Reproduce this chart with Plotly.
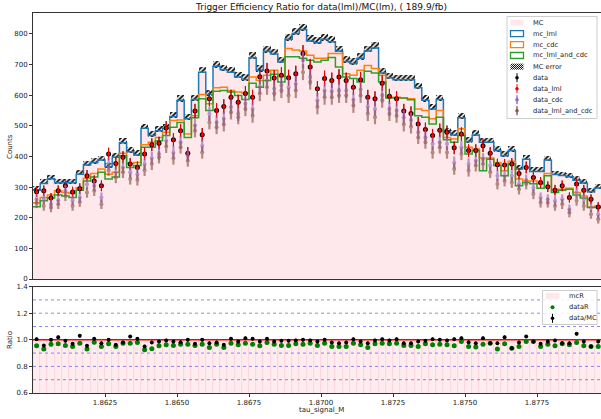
import numpy as np
import plotly.graph_objects as go

# ---------------- data ----------------
bin_lo = 1.86
bin_w = 0.00025
n_bins = 80

mc = [290,312,327,314,314,314,342,372,380,388,
      366,397,445,415,405,492,468,484,492,530,
      583,523,586,675,602,694,683,675,659,651,
      722,681,743,734,708,782,801,814,777,771,
      782,774,744,710,703,720,744,754,672,657,
      650,650,650,624,583,555,586,479,470,526,
      449,470,446,446,419,402,419,359,391,351,
      351,388,341,338,334,322,313,285,297,280]

mc_err = [16,16,16,16,16,16,17,17,17,17,
          17,17,18,18,18,19,18,19,19,19,
          20,19,20,21,20,21,21,21,21,21,
          22,21,22,22,22,23,23,23,23,23,
          23,23,22,22,22,22,22,23,21,21,
          21,21,21,21,20,20,20,19,19,19,
          18,19,18,18,18,18,18,17,17,17,
          17,17,16,16,16,16,16,15,16,15]

mc_cdc = [249,266,274,288,282,279,298,329,344,359,
          342,348,410,377,380,438,446,462,479,517,
          519,473,533,602,572,624,626,615,610,607,
          659,648,665,681,661,752,747,744,730,720,
          720,736,736,670,665,681,697,687,665,593,
          593,591,588,555,550,523,550,462,457,490,
          430,424,395,395,380,353,384,326,320,320,
          311,344,293,293,296,282,271,235,238,230]

mc_lml_and_cdc = [236,255,264,274,271,266,290,320,333,348,
                  326,333,402,364,370,430,430,451,468,495,
                  511,462,526,588,550,613,615,610,599,586,
                  639,626,648,668,643,725,725,720,714,708,
                  714,723,692,659,654,643,678,672,643,591,
                  591,591,585,533,528,506,528,454,446,468,
                  408,419,353,391,370,337,375,304,315,311,
                  296,337,282,290,293,274,264,233,233,225]

data = [285,288,264,288,304,284,295,337,320,304,
        408,377,397,375,364,408,438,443,493,454,
        484,410,548,471,588,550,563,593,577,605,
        593,660,679,656,665,657,670,736,692,621,
        654,648,659,648,626,650,593,588,639,596,
        588,548,540,506,488,468,485,479,428,473,
        419,419,435,410,373,372,375,344,364,331,
        315,301,290,304,266,310,290,260,235,250]

data_cdc = [260,260,244,257,288,257,266,309,304,266,
            377,348,364,348,342,375,395,408,451,413,
            446,402,501,435,539,511,523,561,539,572,
            555,628,648,621,632,626,637,714,659,583,
            615,613,615,615,585,618,563,555,599,555,
            550,528,519,479,462,441,446,441,380,430,
            375,386,391,370,337,337,337,310,323,298,
            266,260,255,260,228,282,260,233,211,225]

data_lml_and_cdc = [247,238,233,244,271,238,251,282,288,244,
                    355,331,348,326,323,355,375,397,432,393,
                    430,386,484,413,511,495,504,544,528,555,
                    533,605,626,605,615,599,615,675,643,561,
                    593,593,599,599,566,599,539,528,583,539,
                    533,504,497,462,446,413,430,413,359,408,
                    353,370,375,348,310,320,315,293,310,277,
                    249,249,238,244,216,255,238,211,195,210]

ratio_data_mc = [1.005,0.957,1.0,1.02,0.992,0.97,1.03,0.955,1.007,0.975,
                 1.0,0.962,0.98,1.025,1.007,0.95,0.98,0.987,0.995,0.987,
                 0.982,1.0,0.97,1.0,0.975,0.98,0.962,1.007,0.987,1.012,
                 1.007,0.987,1.007,0.987,0.992,0.992,0.995,1.0,0.995,0.987,
                 1.0,0.98,0.975,0.98,1.005,0.987,0.975,0.995,1.005,0.995,
                 1.005,0.975,0.975,0.987,0.992,1.005,1.0,0.995,1.005,1.012,
                 0.982,0.975,1.012,0.975,0.975,1.02,0.937,0.98,1.025,0.987,
                 0.97,0.987,0.995,0.975,0.975,1.045,0.987,0.95,0.987,0.98]

ratio_data = [0.955,0.93,0.967,0.97,0.957,0.95,0.975,0.93,0.982,0.95,
              0.97,0.95,0.975,0.975,0.98,0.925,0.932,0.955,0.962,0.957,
              0.967,0.967,0.957,0.967,0.942,0.967,0.942,0.975,0.962,0.975,
              0.967,0.955,0.98,0.967,0.957,0.957,0.97,0.967,0.975,0.957,
              0.975,0.95,0.95,0.95,0.975,0.962,0.942,0.97,0.975,0.97,
              0.975,0.957,0.957,0.95,0.97,0.962,0.967,0.962,0.955,0.987,
              0.95,0.945,0.967,0.975,0.93,0.97,0.937,0.95,0.987,0.987,
              0.95,0.967,0.955,0.97,0.962,0.98,0.955,0.95,0.95,0.96]

ratio_err = [0.012] * n_bins
mc_ratio = [1.0] * n_bins

y_ticks = [0, 100, 200, 300, 400, 500, 600, 700, 800]
x_ticks = [1.8625, 1.8650, 1.8675, 1.8700, 1.8725, 1.8750, 1.8775]
r_ticks = [0.6, 0.8, 1.0, 1.2, 1.4]
r_guides = [0.7, 0.8, 0.9, 1.1, 1.2, 1.3]

title = "Trigger Efficiency Ratio for data(lml)/MC(lm), ( 189.9/fb)"

# ---------------- geometry ----------------
W, H = 601, 419
ML, MR, MT, MB = 33, 0, 13, 26
PW, PH = W - ML - MR, H - MT - MB
px_per_unit = 7.2 / bin_w
x_range = [bin_lo, bin_lo + PW / px_per_unit]

def xp(px):
    return (px - ML) / PW

def yp(py):
    return (H - MB - py) / PH

edges = bin_lo + bin_w * np.arange(n_bins + 1)
centers = edges[:-1] + bin_w / 2

def step(vals):
    return list(edges), list(vals) + [vals[-1]]

FONT = "DejaVu Sans"
PINK = "rgb(255,232,235)"
BLUE, ORANGE, GREEN = "#1f77b4", "#ff7f0e", "#2ca02c"
PURPLE, BROWN = "#9467bd", "#8c564b"

fig = go.Figure()

# MC filled histogram
fig.add_trace(go.Bar(x=centers, y=mc, width=bin_w, marker=dict(color=PINK, line=dict(width=0)),
                     xaxis="x", yaxis="y", showlegend=False, hoverinfo="skip"))
# step lines
for vals, col in [(mc, BLUE), (mc_cdc, ORANGE), (mc_lml_and_cdc, GREEN)]:
    sx, sy = step(vals)
    fig.add_trace(go.Scatter(x=sx, y=sy, mode="lines", line=dict(color=col, width=1.5, shape="hv"),
                             xaxis="x", yaxis="y", showlegend=False, hoverinfo="skip"))
# MC error hatch (sits mostly above the mc_lml line)
mc_arr = np.array(mc, float)
err_arr = np.array(mc_err, float)
fig.add_trace(go.Bar(x=centers, y=err_arr, base=mc_arr - 0.2 * err_arr, width=bin_w,
                     marker=dict(color="white", line=dict(width=0),
                                 pattern=dict(shape="/", fgcolor="black", bgcolor="white",
                                              size=3.5, solidity=0.5, fillmode="replace")),
                     xaxis="x", yaxis="y", showlegend=False, hoverinfo="skip"))

# data points
d_arr = np.array(data, float)
fig.add_trace(go.Scatter(x=centers, y=data, mode="markers",
                         marker=dict(color="black", size=5),
                         error_y=dict(type="data", array=np.sqrt(d_arr), color="black", thickness=1, width=0),
                         xaxis="x", yaxis="y", showlegend=False, hoverinfo="skip"))
fig.add_trace(go.Scatter(x=centers, y=data, mode="markers",
                         marker=dict(color="red", size=3),
                         error_y=dict(type="data", array=np.sqrt(d_arr), color="red", thickness=1, width=0),
                         xaxis="x", yaxis="y", showlegend=False, hoverinfo="skip"))
for vals, col in [(data_cdc, PURPLE), (data_lml_and_cdc, BROWN)]:
    v = np.array(vals, float)
    fig.add_trace(go.Scatter(x=centers, y=vals, mode="markers", opacity=0.65,
                             marker=dict(color=col, size=4),
                             error_y=dict(type="data", array=np.sqrt(v), color=col, thickness=2.2, width=0),
                             xaxis="x", yaxis="y", showlegend=False, hoverinfo="skip"))

# ratio panel
fig.add_trace(go.Bar(x=centers, y=mc_ratio, width=bin_w,
                     marker=dict(color="rgb(255,236,239)", line=dict(color="rgb(250,205,214)", width=0.6)),
                     xaxis="x2", yaxis="y2", showlegend=False, hoverinfo="skip"))
for g in r_guides:
    fig.add_trace(go.Scatter(x=[edges[0], edges[-1]], y=[g, g], mode="lines",
                             line=dict(color="rgba(60,60,255,0.6)", width=1, dash="dot"),
                             xaxis="x2", yaxis="y2", showlegend=False, hoverinfo="skip"))
fig.add_trace(go.Scatter(x=[edges[0], edges[-1]], y=[1.0, 1.0], mode="lines",
                         line=dict(color="red", width=1.5),
                         xaxis="x2", yaxis="y2", showlegend=False, hoverinfo="skip"))
fig.add_trace(go.Scatter(x=centers, y=ratio_data, mode="markers",
                         marker=dict(color="green", size=5),
                         xaxis="x2", yaxis="y2", showlegend=False, hoverinfo="skip"))
fig.add_trace(go.Scatter(x=centers, y=ratio_data_mc, mode="markers",
                         marker=dict(color="black", size=4),
                         error_y=dict(type="data", array=ratio_err, color="black", thickness=1.2, width=0),
                         xaxis="x2", yaxis="y2", showlegend=False, hoverinfo="skip"))

AX = dict(showgrid=False, zeroline=False, showline=True, linecolor="#333", linewidth=1,
          mirror=True, tickfont=dict(family=FONT, size=7, color="#222"),
          ticks="outside", ticklen=3, tickcolor="#333", automargin=False)

fig.update_layout(
    width=W, height=H, margin=dict(l=ML, r=MR, t=MT, b=MB, pad=0, autoexpand=False),
    paper_bgcolor="white", plot_bgcolor="white",
    barmode="overlay", bargap=0,
    font=dict(family=FONT, size=7, color="#222"),
    xaxis=dict(AX, domain=[0, 1], anchor="y", range=x_range, showticklabels=False, ticks=""),
    yaxis=dict(AX, domain=[0.3, 1], anchor="x", range=[0, 868], tickvals=y_ticks),
    xaxis2=dict(AX, domain=[0, 1], anchor="y2", range=x_range, tickvals=x_ticks,
                ticktext=[f"{t:.4f}" for t in x_ticks]),
    yaxis2=dict(AX, domain=[0, 0.28], anchor="x2", range=[0.6, 1.4], tickvals=r_ticks,
                ticktext=[f"{t:.1f}" for t in r_ticks]),
)

annotations = []
shapes = []
annotations.append(dict(text=title, x=xp(321), y=yp(7), xref="paper", yref="paper",
                        showarrow=False, xanchor="center", yanchor="middle",
                        font=dict(family=FONT, size=9, color="#111")))
annotations.append(dict(text="tau_signal_M", x=xp(321), y=yp(410), xref="paper", yref="paper",
                        showarrow=False, xanchor="center", yanchor="middle",
                        font=dict(family=FONT, size=7, color="#222")))
annotations.append(dict(text="Counts", x=xp(10), y=yp(147), xref="paper", yref="paper", textangle=-90,
                        showarrow=False, xanchor="center", yanchor="middle",
                        font=dict(family=FONT, size=7, color="#222")))
annotations.append(dict(text="Ratio", x=xp(10), y=yp(340), xref="paper", yref="paper", textangle=-90,
                        showarrow=False, xanchor="center", yanchor="middle",
                        font=dict(family=FONT, size=7, color="#222")))

# ---- top legend (drawn manually to match matplotlib layout) ----
LFS = 6.7
lx0, lx1, ly0, ly1 = 507, 597, 16.5, 118.5
shapes.append(dict(type="rect", xref="paper", yref="paper", x0=xp(lx0), x1=xp(lx1), y0=yp(ly1), y1=yp(ly0),
                   line=dict(color="#cccccc", width=1), fillcolor="rgba(255,255,255,0.85)", layer="above"))
labels = ["MC", "mc_lml", "mc_cdc", "mc_lml_and_cdc", "MC error", "data", "data_lml", "data_cdc", "data_lml_and_cdc"]
ys = [22.7, 33.7, 44.6, 55.5, 66.6, 77.7, 88.7, 99.7, 110.7]
px0, px1 = 510.5, 523.5
for lab, yc in zip(labels, ys):
    annotations.append(dict(text=lab, x=xp(530.5), y=yp(yc), xref="paper", yref="paper", showarrow=False,
                            xanchor="left", yanchor="middle", font=dict(family=FONT, size=LFS, color="#222")))
def patch(yc, fill=None, line=None):
    shapes.append(dict(type="rect", xref="paper", yref="paper", x0=xp(px0), x1=xp(px1),
                       y0=yp(yc + 3), y1=yp(yc - 3), fillcolor=fill or "rgba(0,0,0,0)",
                       line=dict(color=line or "rgba(0,0,0,0)", width=1.3 if line else 0), layer="above"))
patch(ys[0], fill=PINK)
patch(ys[1], line=BLUE)
patch(ys[2], line=ORANGE)
patch(ys[3], line=GREEN)
# hatch patch
yc = ys[4]
for k in range(-6, 14, 2):
    xa, xb = px0 + k, px0 + k + 6
    ya, yb = yc + 3, yc - 3
    if xa < px0:
        ya -= (px0 - xa); xa = px0
    if xb > px1:
        yb += (xb - px1); xb = px1
    if xb > xa:
        shapes.append(dict(type="line", xref="paper", yref="paper", x0=xp(xa), y0=yp(ya), x1=xp(xb), y1=yp(yb),
                           line=dict(color="black", width=1), layer="above"))
cxl = (px0 + px1) / 2
for yc, col, lw in [(ys[5], "black", 1), (ys[6], "red", 1), (ys[7], PURPLE, 2), (ys[8], BROWN, 2)]:
    shapes.append(dict(type="line", xref="paper", yref="paper", x0=xp(cxl), x1=xp(cxl), y0=yp(yc + 4.5), y1=yp(yc - 4.5),
                       line=dict(color=col, width=lw), layer="above", opacity=1 if lw == 1 else 0.7))
    shapes.append(dict(type="circle", xref="paper", yref="paper", x0=xp(cxl - 1.8), x1=xp(cxl + 1.8),
                       y0=yp(yc + 1.8), y1=yp(yc - 1.8), fillcolor=col, line=dict(width=0), layer="above"))

# ---- ratio legend ----
rx0, rx1, ry0, ry1 = 542.5, 597, 290.5, 324.5
shapes.append(dict(type="rect", xref="paper", yref="paper", x0=xp(rx0), x1=xp(rx1), y0=yp(ry1), y1=yp(ry0),
                   line=dict(color="#cccccc", width=1), fillcolor="rgba(255,255,255,0.85)", layer="above"))
rys = [295.8, 307.2, 318.3]
for lab, yc in zip(["mcR", "dataR", "data/MC"], rys):
    annotations.append(dict(text=lab, x=xp(567), y=yp(yc), xref="paper", yref="paper", showarrow=False,
                            xanchor="left", yanchor="middle", font=dict(family=FONT, size=LFS, color="#222")))
shapes.append(dict(type="rect", xref="paper", yref="paper", x0=xp(545.5), x1=xp(559.5),
                   y0=yp(rys[0] + 3), y1=yp(rys[0] - 3), fillcolor=PINK, line=dict(width=0), layer="above"))
cxr = 552.5
shapes.append(dict(type="circle", xref="paper", yref="paper", x0=xp(cxr - 2), x1=xp(cxr + 2),
                   y0=yp(rys[1] + 2), y1=yp(rys[1] - 2), fillcolor="green", line=dict(width=0), layer="above"))
shapes.append(dict(type="line", xref="paper", yref="paper", x0=xp(cxr), x1=xp(cxr), y0=yp(rys[2] + 4.5),
                   y1=yp(rys[2] - 4.5), line=dict(color="black", width=1), layer="above"))
shapes.append(dict(type="circle", xref="paper", yref="paper", x0=xp(cxr - 1.8), x1=xp(cxr + 1.8),
                   y0=yp(rys[2] + 1.8), y1=yp(rys[2] - 1.8), fillcolor="black", line=dict(width=0), layer="above"))

fig.update_layout(annotations=annotations, shapes=shapes)
fig.write_html("out.html")
